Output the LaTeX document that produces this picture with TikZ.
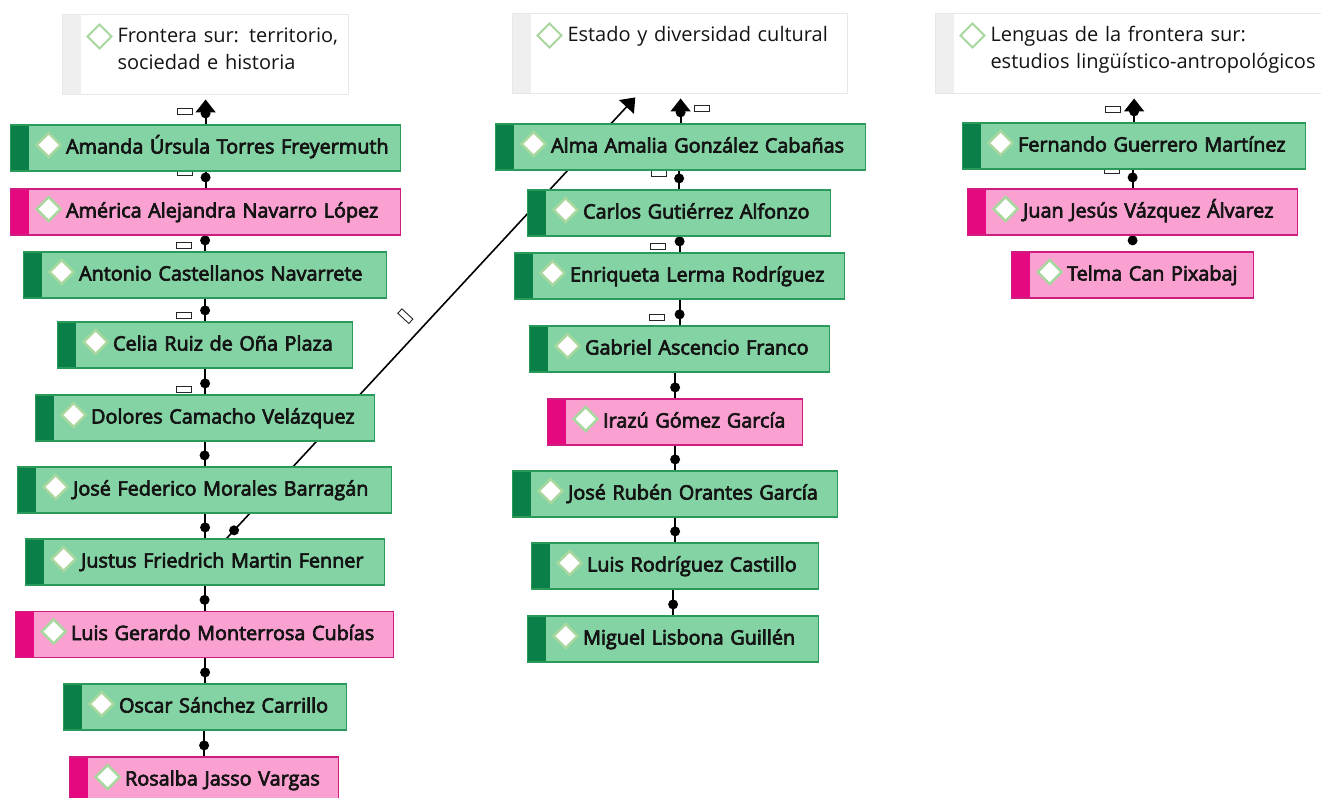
\documentclass[tikz,border=0pt]{standalone}
\usepackage{fontspec}
\setmainfont{Open Sans}
\newfontfamily\codefont{Open Sans}[FakeBold=3.5]
\usepackage{xcolor}
\usepackage{tikz}
\usetikzlibrary{arrows.meta}
\usetikzlibrary{positioning, calc}
\usetikzlibrary{decorations.markings}
\usetikzlibrary{backgrounds}

\definecolor{codegreen}{HTML}{84D3A4}
\definecolor{codegreendark}{HTML}{0B7F48}
\definecolor{codegreenline}{HTML}{2A9A5A}
\definecolor{codepink}{HTML}{FBA1D1}
\definecolor{codepinkdark}{HTML}{E5087F}
\definecolor{codepinkline}{HTML}{CF1C80}
\definecolor{iconline}{HTML}{A8D89E}
\definecolor{headline}{HTML}{E8E8E8}
\definecolor{headstrip}{HTML}{EFEFEF}
\definecolor{textblack}{HTML}{141414}

\tikzset{
    icon/.style={draw=iconline, fill=white, line width=2.4pt, line join=miter},
    codebox/.style={rectangle, draw=#1line, fill=#1, line width=1.2pt, inner sep=0pt,
        text height=28.5pt, text depth=17.5pt, align=left, anchor=west, text=textblack,
        font=\codefont\fontsize{19.8}{23}\selectfont,
        execute at begin node={\leftskip=55.5pt},
        path picture={
            \fill[#1dark] (path picture bounding box.north west) rectangle ([xshift=18pt]path picture bounding box.south west);
            \draw[icon] ([xshift=26pt,yshift=3pt]path picture bounding box.west) -- ++(12pt,12pt) -- ++(12pt,-12pt) -- ++(-12pt,-12pt) -- cycle;
        }},
    greencode/.style={codebox=codegreen, text width=#1},
    pinkcode/.style={codebox=codepink, text width=#1},
    headbox/.style={rectangle, draw=headline, fill=white, line width=1pt, inner sep=0pt, anchor=north west,
        text width=#1, text height=28pt, text depth=52.5pt, align=left, text=textblack,
        font=\fontsize{20}{27.5}\selectfont,
        execute at begin node={\leftskip=55pt},
        path picture={
            \fill[headstrip] (path picture bounding box.north west) rectangle ([xshift=18pt]path picture bounding box.south west);
            \draw[icon, line width=2pt] ([xshift=25pt,yshift=-22pt]path picture bounding box.north west) -- ++(12pt,12pt) -- ++(12pt,-12pt) -- ++(-12pt,-12pt) -- cycle;
        }},
    dotmark/.style={postaction={decorate},
        decoration={markings, mark=at position 11pt with {\fill[black] (0,0) circle (5pt);}}},
    link/.style={dotmark, draw=black, line width=2pt},
    diag/.style={line width=1.6pt},
    head/.style={-{Triangle[width=20pt,length=13pt]}, shorten >=4pt},
    relbox/.style={rectangle, draw=black!85, fill=white, line width=0.9pt, minimum width=15pt, minimum height=6pt, inner sep=0pt}
}

\begin{document}
\begin{tikzpicture}[x=1pt,y=-1pt]
        \path[use as bounding box] (0,0) rectangle (1321,797);

        \node[headbox=286pt] (frontera) at (62,14) {Frontera sur: territorio,\\sociedad e historia};
        \node[headbox=335pt] (estado) at (512,13) {Estado y diversidad cultural};
        \node[headbox=420pt] (lenguas) at (935,13) {Lenguas de la frontera sur:\\estudios lingüístico-antropológicos};

        \node[greencode=390pt] (amanda) at (10,148) {Amanda Úrsula Torres Freyermuth};
        \node[pinkcode=390pt] (america) at (10,212) {América Alejandra Navarro López};
        \node[greencode=363pt] (antonio) at (23,275) {Antonio Castellanos Navarrete};
        \node[greencode=295pt] (celia) at (57,345) {Celia Ruiz de Oña Plaza};
        \node[greencode=339pt] (dolores) at (35,418) {Dolores Camacho Velázquez};
        \node[greencode=374pt] (josefederico) at (17,490) {José Federico Morales Barragán};
        \node[greencode=359pt] (justus) at (25,562) {Justus Friedrich Martin Fenner};
        \node[pinkcode=378pt] (luisgerardo) at (15,634.5) {Luis Gerardo Monterrosa Cubías};
        \node[greencode=283pt] (oscar) at (63,707) {Oscar Sánchez Carrillo};
        \node[pinkcode=269pt] (rosalba) at (69,780) {Rosalba Jasso Vargas};

        \node[greencode=370pt] (alma) at (495,147) {Alma Amalia González Cabañas};
        \node[greencode=303pt] (carlos) at (527,213) {Carlos Gutiérrez Alfonzo};
        \node[greencode=330pt] (enriqueta) at (514,276) {Enriqueta Lerma Rodríguez};
        \node[greencode=300pt] (gabriel) at (529,349) {Gabriel Ascencio Franco};
        \node[pinkcode=255pt] (irazu) at (547,422) {Irazú Gómez García};
        \node[greencode=325pt] (joseruben) at (512,494) {José Rubén Orantes García};
        \node[greencode=287pt] (luisrodriguez) at (531,566) {Luis Rodríguez Castillo};
        \node[greencode=291pt] (miguel) at (527,639) {Miguel Lisbona Guillén};

        \node[greencode=343pt] (fernando) at (962,146) {Fernando Guerrero Martínez};
        \node[pinkcode=330pt] (juan) at (967,212) {Juan Jesús Vázquez Álvarez};
        \node[pinkcode=242pt] (telma) at (1011,275) {Telma Can Pixabaj};

        \begin{scope}[on background layer]
        \fill[white] (0,0) rectangle (1321,797);
        \draw[link, diag, head] ([xshift=21.5pt]justus.north) -- ([xshift=126pt]estado.south west)
            node[relbox, pos=.47, xshift=-14.6pt, yshift=13.6pt, rotate=-43] (r12) {};

        \draw[link, head] (amanda.north) -- (amanda.north |- frontera.south);
        \draw[link] (america.north) -- (america.north |- amanda.south);
        \draw[link] (antonio.north) -- (antonio.north |- america.south);
        \draw[link] (celia.north) -- (celia.north |- antonio.south);
        \draw[link] (dolores.north) -- (dolores.north |- celia.south);
        \draw[link] (josefederico.north) -- (josefederico.north |- dolores.south);
        \draw[link] (justus.north) -- (justus.north |- josefederico.south);
        \draw[link] (luisgerardo.north) -- (luisgerardo.north |- justus.south);
        \draw[link] (oscar.north) -- (oscar.north |- luisgerardo.south);
        \draw[link] (rosalba.north) -- (rosalba.north |- oscar.south);

        \draw[link, head] (alma.north) -- (alma.north |- estado.south);
        \draw[link] (carlos.north) -- (carlos.north |- alma.south);
        \draw[link] (enriqueta.north) -- (enriqueta.north |- carlos.south);
        \draw[link] (gabriel.north) -- (gabriel.north |- enriqueta.south);
        \draw[link] (irazu.north) -- (irazu.north |- gabriel.south);
        \draw[link] (joseruben.north) -- (joseruben.north |- irazu.south);
        \draw[link] (luisrodriguez.north) -- (luisrodriguez.north |- joseruben.south);
        \draw[link] (miguel.north) -- (miguel.north |- luisrodriguez.south);

        \draw[link, head] (fernando.north) -- (fernando.north |- lenguas.south);
        \draw[link] (juan.north) -- (juan.north |- fernando.south);
        \path[dotmark] (telma.north) -- (telma.north |- juan.south);

        \node[relbox] (r1) at ([xshift=-21pt,yshift=12.5pt]amanda.north) {};
        \node[relbox] (r2) at ([xshift=-21pt,yshift=15.5pt]america.north) {};
        \node[relbox] (r3) at ([xshift=-21pt,yshift=6pt]antonio.north) {};
        \node[relbox] (r4) at ([xshift=-21pt,yshift=5.5pt]celia.north) {};
        \node[relbox] (r5) at ([xshift=-21pt,yshift=5pt]dolores.north) {};
        \node[relbox] (r6) at ([xshift=21pt,yshift=14.5pt]alma.north) {};
        \node[relbox] (r7) at ([xshift=-20pt,yshift=16pt]carlos.north) {};
        \node[relbox] (r8) at ([xshift=-21.5pt,yshift=6pt]enriqueta.north) {};
        \node[relbox] (r9) at ([xshift=-23pt,yshift=7.5pt]gabriel.north) {};
        \node[relbox] (r10) at ([xshift=-21pt,yshift=13pt]fernando.north) {};
        \node[relbox] (r11) at ([xshift=-21pt,yshift=17.5pt]juan.north) {};
        \end{scope}
\end{tikzpicture}
\end{document}
